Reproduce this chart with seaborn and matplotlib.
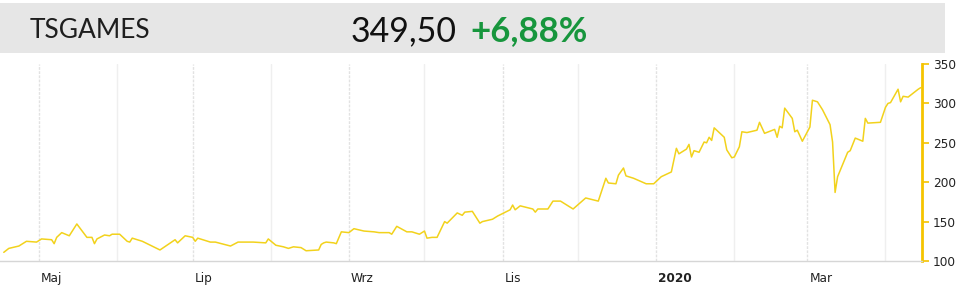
import matplotlib
matplotlib.use("Agg")
import matplotlib.pyplot as plt
import matplotlib.transforms as mtransforms
from matplotlib.patches import Rectangle
import pandas as pd
import seaborn as sns

ticker = "TSGAMES"
price_text = "349,50"
change_text = "+6,88%"

dates = [
    "2019-04-17", "2019-04-19", "2019-04-23", "2019-04-26", "2019-04-30",
    "2019-05-02", "2019-05-06", "2019-05-07", "2019-05-08", "2019-05-10",
    "2019-05-13", "2019-05-16", "2019-05-20", "2019-05-22", "2019-05-23",
    "2019-05-24", "2019-05-27", "2019-05-29", "2019-05-30", "2019-06-02",
    "2019-06-05", "2019-06-06", "2019-06-07", "2019-06-11", "2019-06-18",
    "2019-06-24", "2019-06-25", "2019-06-28", "2019-07-01", "2019-07-02",
    "2019-07-03", "2019-07-08", "2019-07-10", "2019-07-16", "2019-07-19",
    "2019-07-25", "2019-07-30", "2019-07-31", "2019-08-03", "2019-08-06",
    "2019-08-08", "2019-08-10", "2019-08-13", "2019-08-15", "2019-08-20",
    "2019-08-21", "2019-08-22", "2019-08-23", "2019-08-26", "2019-08-27",
    "2019-08-29", "2019-09-01", "2019-09-03", "2019-09-07", "2019-09-11",
    "2019-09-13", "2019-09-17", "2019-09-18", "2019-09-20", "2019-09-24",
    "2019-09-26", "2019-09-29", "2019-10-01", "2019-10-02", "2019-10-04",
    "2019-10-06", "2019-10-09", "2019-10-10", "2019-10-14", "2019-10-16",
    "2019-10-17", "2019-10-20", "2019-10-23", "2019-10-24", "2019-10-28",
    "2019-10-30", "2019-11-04", "2019-11-05", "2019-11-06", "2019-11-08",
    "2019-11-13", "2019-11-14", "2019-11-15", "2019-11-19", "2019-11-21",
    "2019-11-24", "2019-11-29", "2019-12-04", "2019-12-09", "2019-12-12",
    "2019-12-13", "2019-12-16", "2019-12-17", "2019-12-19", "2019-12-20",
    "2019-12-23", "2019-12-28", "2019-12-31", "2020-01-03", "2020-01-07",
    "2020-01-09", "2020-01-10", "2020-01-13", "2020-01-14", "2020-01-15",
    "2020-01-16", "2020-01-18", "2020-01-20", "2020-01-21", "2020-01-22",
    "2020-01-23", "2020-01-24", "2020-01-28", "2020-01-29", "2020-01-31",
    "2020-02-01", "2020-02-03", "2020-02-04", "2020-02-06", "2020-02-10",
    "2020-02-11", "2020-02-13", "2020-02-17", "2020-02-18", "2020-02-19",
    "2020-02-20", "2020-02-21", "2020-02-24", "2020-02-25", "2020-02-26",
    "2020-02-28", "2020-03-02", "2020-03-03", "2020-03-05", "2020-03-07",
    "2020-03-10", "2020-03-11", "2020-03-12", "2020-03-13", "2020-03-17",
    "2020-03-18", "2020-03-20", "2020-03-23", "2020-03-24", "2020-03-25",
    "2020-03-30", "2020-04-01", "2020-04-02", "2020-04-03", "2020-04-06",
    "2020-04-07", "2020-04-08", "2020-04-10", "2020-04-14", "2020-04-15",
]
values = [
    111, 116, 119, 125, 124,
    128, 127, 122, 130, 136,
    132, 147, 130, 130, 122,
    128, 133, 132, 134, 134,
    125, 124, 129, 125, 114,
    127, 123, 132, 130, 125,
    129, 124, 124, 119, 124,
    124, 123, 128, 120, 118,
    116, 118, 117, 113, 114,
    121, 123, 124, 123, 122,
    137, 136, 141, 138, 137,
    136, 136, 134, 144, 137,
    137, 134, 138, 129, 130,
    130, 150, 148, 161, 158,
    162, 163, 148, 150, 153,
    157, 165, 171, 165, 170,
    166, 162, 166, 166, 176,
    176, 166, 180, 176, 205,
    199, 198, 209, 218, 208,
    205, 198, 198, 207, 213,
    243, 236, 242, 248, 232,
    240, 238, 251, 250, 257,
    253, 269, 257, 241, 231,
    232, 245, 264, 263, 266,
    276, 262, 267, 257, 271,
    269, 294, 281, 264, 266,
    252, 270, 304, 302, 292,
    273, 251, 187, 207, 238,
    240, 256, 252, 281, 275,
    276, 295, 300, 301, 318,
    302, 309, 308, 318, 320,
]

major_dates = ["2019-05-01", "2019-07-01", "2019-09-01", "2019-11-01", "2020-01-01", "2020-03-01"]
major_labels = ["Maj", "Lip", "Wrz", "Lis", "2020", "Mar"]
minor_dates = ["2019-06-01", "2019-08-01", "2019-10-01", "2019-12-01", "2020-02-01", "2020-04-01"]
y_ticks = [100, 150, 200, 250, 300, 350]

df = pd.DataFrame({"date": pd.to_datetime(dates), "value": values})

sns.set_style("white")
plt.rcParams["font.family"] = ["DejaVu Sans"]

W, H = 961, 288
fig = plt.figure(figsize=(W / 100, H / 100), dpi=100)
fig.patch.set_facecolor("white")

# header band
fig.patches.append(Rectangle((0, 1 - 53 / H), 945 / W, 50 / H,
                             transform=fig.transFigure, facecolor="#e6e6e6",
                             edgecolor="none", zorder=0))
ty = 1 - 31 / H
fig.text(30 / W, ty, ticker, fontsize=19, family="Lato", fontweight="normal",
         color="#1e1e1e", va="center", ha="left")
fig.text(351 / W, ty, price_text, fontsize=24.5, family="Lato", fontweight="normal",
         color="#111111", va="center", ha="left")
fig.text(470 / W, ty, change_text, fontsize=25, family="Lato", fontweight="bold",
         color="#17963d", va="center", ha="left")

ax = fig.add_axes([0 / W, (H - 261) / H, 922 / W, (261 - 64) / H])
sns.lineplot(data=df, x="date", y="value", ax=ax, color="#f2d21c", linewidth=1.1)

ax.set_xlim(pd.Timestamp("2019-04-15 12:00"), pd.Timestamp("2020-04-15 12:00"))
ax.set_ylim(100, 350)
ax.set_xlabel("")
ax.set_ylabel("")

ax.set_xticks(pd.to_datetime(major_dates))
ax.set_xticklabels(major_labels)
ax.set_xticks(pd.to_datetime(minor_dates), minor=True)
ax.grid(False)
ax.grid(True, axis="x", which="major", color="#e2e2e2", linewidth=1.0, linestyle=(0, (2, 1)))
ax.grid(True, axis="x", which="minor", color="#efefef", linewidth=1.0)

ax.tick_params(axis="x", which="major", length=5, width=1, color="#dedede",
               labelsize=8.7, labelcolor="#222222", pad=3)
ax.tick_params(axis="x", which="minor", length=0)
offset = mtransforms.ScaledTranslation(2 / 100, 0, fig.dpi_scale_trans)
for lbl in ax.get_xticklabels():
    lbl.set_horizontalalignment("left")
    lbl.set_transform(lbl.get_transform() + offset)
    if lbl.get_text() == "2020":
        lbl.set_fontweight("bold")

ax.yaxis.tick_right()
ax.set_yticks(y_ticks)
ax.tick_params(axis="y", which="major", right=True, left=False, length=5, width=1.2,
               color="#f5c400", labelsize=8.7, labelcolor="#222222", pad=3)

for s in ["left", "top"]:
    ax.spines[s].set_visible(False)
ax.spines["right"].set_color("#f5c400")
ax.spines["right"].set_linewidth(2)
ax.spines["bottom"].set_color("#d6d6d6")
ax.spines["bottom"].set_linewidth(1)

fig.savefig("out.png", dpi=100)
